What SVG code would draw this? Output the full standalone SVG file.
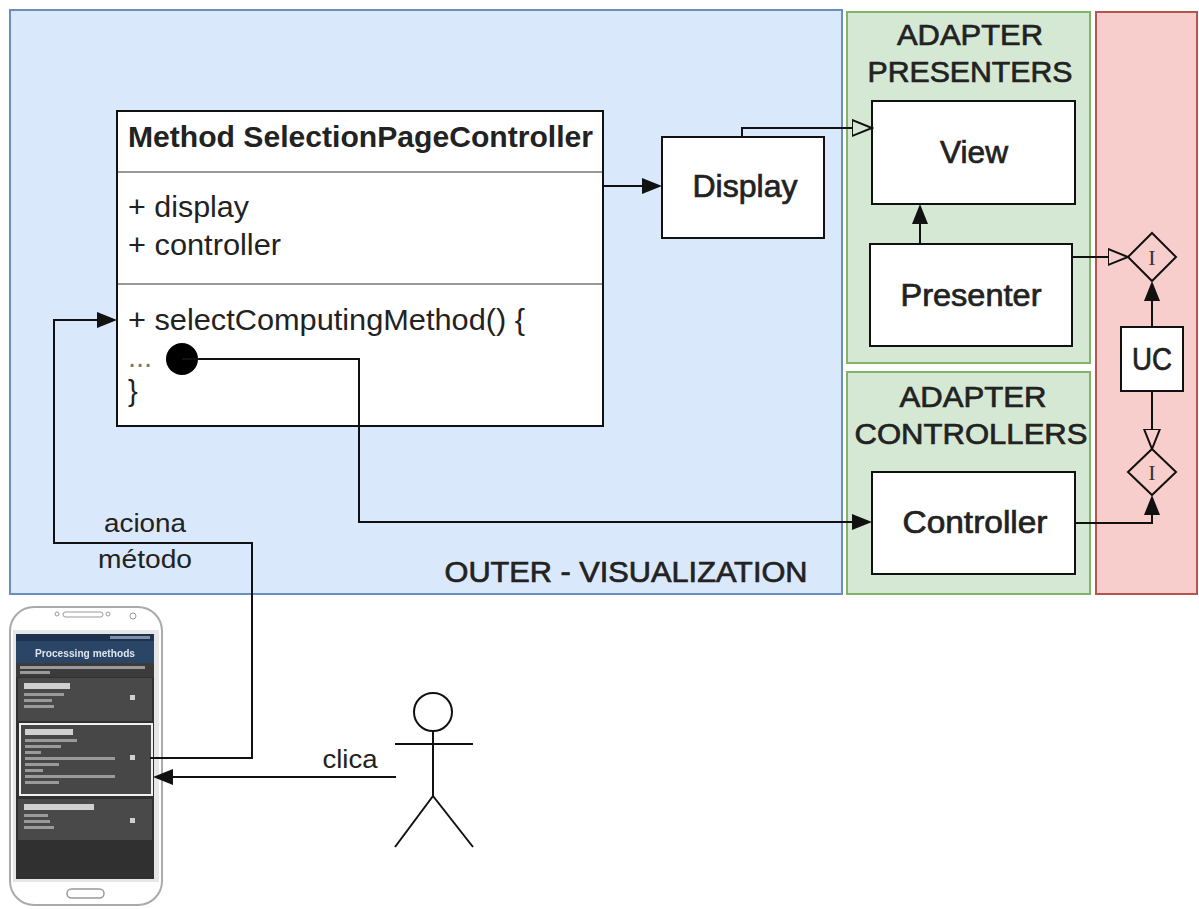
<svg xmlns="http://www.w3.org/2000/svg" width="1199" height="909" viewBox="0 0 1199 909">
  <style>
    .t { font-family: "Liberation Sans", Arial, sans-serif; fill: #222; }
    .heavy { stroke: #222; stroke-width: 0.7px; }
    .lbl { font-size: 31px; text-anchor: middle; }
    .mem { font-size: 29px; }
    .sec { font-size: 30px; text-anchor: middle; }
    .edge { fill: none; stroke: #111; stroke-width: 2; }
    .box { fill: #fff; stroke: #111; stroke-width: 2; }
    .iface { fill: none; stroke: #111; stroke-width: 2; }
    .itxt { font-family: "Liberation Serif", "Times New Roman", serif; font-size: 22px; fill: #333; text-anchor: middle; }
    .bar { fill: #9a9a9a; }
    .barHi { fill: #d0d0d0; }
  </style>
  <defs>
    <marker id="arrFill" viewBox="0 -9 22 18" refX="0" refY="0" markerWidth="22" markerHeight="18" markerUnits="userSpaceOnUse" orient="auto">
      <path d="M0,-8 L20,0 L0,8 Z" fill="#111"/>
    </marker>
    <marker id="arrOpen" viewBox="0 -10 22 20" refX="0" refY="0" markerWidth="22" markerHeight="20" markerUnits="userSpaceOnUse" orient="auto">
      <path d="M0,-8 L20,0 L0,8 Z" fill="none" stroke="#111" stroke-width="2"/>
    </marker>
    <filter id="soft" x="-5%" y="-5%" width="110%" height="110%">
      <feGaussianBlur stdDeviation="0.7"/>
    </filter>
  </defs>

  <!-- Layer regions -->
  <g id="layer-outer">
    <rect x="10" y="10" width="832" height="584" fill="#dae8fc" stroke="#6c8ebf" stroke-width="2"/>
    <text class="t heavy" x="626" y="582" font-size="30" text-anchor="middle" textLength="363" lengthAdjust="spacingAndGlyphs">OUTER - VISUALIZATION</text>
  </g>
  <g id="layer-adapter-presenters">
    <rect x="847" y="12" width="243" height="351" fill="#d5e8d4" stroke="#82b366" stroke-width="2"/>
    <text class="t sec heavy" x="970" y="45" textLength="146" lengthAdjust="spacingAndGlyphs">ADAPTER</text>
    <text class="t sec heavy" x="970" y="82" textLength="205" lengthAdjust="spacingAndGlyphs">PRESENTERS</text>
  </g>
  <g id="layer-adapter-controllers">
    <rect x="847" y="372" width="243" height="222" fill="#d5e8d4" stroke="#82b366" stroke-width="2"/>
    <text class="t sec heavy" x="973" y="407" textLength="147" lengthAdjust="spacingAndGlyphs">ADAPTER</text>
    <text class="t sec heavy" x="971" y="444" textLength="233" lengthAdjust="spacingAndGlyphs">CONTROLLERS</text>
  </g>
  <g id="layer-usecases">
    <rect x="1096" y="12" width="101" height="582" fill="#f8cecc" stroke="#b85450" stroke-width="2"/>
  </g>

  <!-- Class -->
  <g id="method-selection-page-controller">
    <rect class="box" x="117" y="111" width="486" height="315"/>
    <line x1="118" y1="172" x2="602" y2="172" stroke="#999" stroke-width="2"/>
    <line x1="118" y1="284" x2="602" y2="284" stroke="#999" stroke-width="2"/>
    <text class="t" x="128" y="147" font-size="30" font-weight="bold" textLength="465" lengthAdjust="spacingAndGlyphs">Method SelectionPageController</text>
    <text class="t mem" x="128" y="217" textLength="121" lengthAdjust="spacingAndGlyphs">+ display</text>
    <text class="t mem" x="128" y="255" textLength="153" lengthAdjust="spacingAndGlyphs">+ controller</text>
    <text class="t mem" x="128" y="330" textLength="397" lengthAdjust="spacingAndGlyphs">+ selectComputingMethod() {</text>
    <text class="t mem" x="128" y="367" style="fill:#777">...</text>
    <text class="t mem" x="128" y="401">}</text>
  </g>

  <g id="display">
    <rect class="box" x="662" y="137" width="162" height="101"/>
    <text class="t lbl heavy" x="745" y="197" textLength="105" lengthAdjust="spacingAndGlyphs">Display</text>
  </g>
  <g id="view">
    <rect class="box" x="872" y="101" width="203" height="103"/>
    <text class="t lbl heavy" x="974" y="163" textLength="68" lengthAdjust="spacingAndGlyphs">View</text>
  </g>
  <g id="presenter">
    <rect class="box" x="870" y="244" width="202" height="102"/>
    <text class="t lbl heavy" x="971" y="306" textLength="141" lengthAdjust="spacingAndGlyphs">Presenter</text>
  </g>
  <g id="controller">
    <rect class="box" x="872" y="472" width="203" height="102"/>
    <text class="t lbl heavy" x="975" y="533" textLength="145" lengthAdjust="spacingAndGlyphs">Controller</text>
  </g>
  <g id="uc">
    <rect class="box" x="1121" y="327" width="62" height="64"/>
    <text class="t lbl heavy" x="1152" y="370" textLength="40" lengthAdjust="spacingAndGlyphs">UC</text>
  </g>
  <g id="output-port">
    <polygon class="iface" points="1152,233 1176,257 1152,281 1128,257"/>
    <text class="itxt" x="1152" y="265">I</text>
  </g>
  <g id="input-port">
    <polygon class="iface" points="1152,449 1176,472 1152,495 1128,472"/>
    <text class="itxt" x="1152" y="480">I</text>
  </g>

  <!-- Actor -->
  <g id="user" fill="none" stroke="#111" stroke-width="2">
    <circle cx="433" cy="712" r="19" fill="#fff"/>
    <line x1="433" y1="731" x2="433" y2="796"/>
    <line x1="395" y1="744" x2="473" y2="744"/>
    <line x1="433" y1="796" x2="395" y2="847"/>
    <line x1="433" y1="796" x2="473" y2="847"/>
  </g>

  <!-- Smartphone showing the method list -->
  <g id="phone">
    <rect x="10" y="607" width="152" height="298" rx="24" fill="#fff" stroke="#aaa" stroke-width="2"/>
    <rect x="13" y="630" width="146" height="252" fill="#e6e6e6"/>
    <rect x="63" y="612" width="40" height="5" rx="2.5" fill="none" stroke="#999" stroke-width="1"/>
    <circle cx="57" cy="614" r="2" fill="none" stroke="#999"/>
    <circle cx="108" cy="614" r="2" fill="none" stroke="#999"/>
    <circle cx="133" cy="616" r="3" fill="none" stroke="#999"/>
    <rect x="67" y="889" width="37" height="9" rx="4.5" fill="none" stroke="#999" stroke-width="1.5"/>
    <rect x="16" y="634" width="138" height="245" fill="#303030"/>
    <g filter="url(#soft)">
      <rect x="16" y="634" width="138" height="7" fill="#1f3350"/>
      <rect x="110" y="636" width="40" height="3" fill="#8090a8"/>
      <rect x="16" y="641" width="138" height="22" fill="#2a4466"/>
      <rect x="16" y="663" width="138" height="14" fill="#3a3a3a"/>
      <rect x="20" y="666" width="125" height="3" class="bar"/>
      <rect x="20" y="671" width="30" height="3" class="bar"/>
      <rect x="18" y="678" width="134" height="43" fill="#484848"/>
      <rect x="24" y="683" width="46" height="6" class="barHi"/>
      <rect x="24" y="693" width="40" height="3" class="bar"/>
      <rect x="24" y="699" width="28" height="3" class="bar"/>
      <rect x="24" y="705" width="30" height="3" class="bar"/>
      <rect x="130" y="695" width="5" height="5" class="barHi"/>
      <rect x="20" y="724" width="132" height="71" fill="#474747" stroke="#f0f0f0" stroke-width="2"/>
      <rect x="25" y="729" width="48" height="6" class="barHi"/>
      <rect x="25" y="739" width="52" height="3" class="bar"/>
      <rect x="25" y="745" width="36" height="3" class="bar"/>
      <rect x="25" y="751" width="16" height="3" class="bar"/>
      <rect x="25" y="757" width="90" height="3" class="bar"/>
      <rect x="25" y="763" width="34" height="3" class="bar"/>
      <rect x="25" y="769" width="18" height="3" class="bar"/>
      <rect x="25" y="775" width="90" height="3" class="bar"/>
      <rect x="25" y="781" width="34" height="3" class="bar"/>
      <rect x="130" y="755" width="5" height="5" class="barHi"/>
      <rect x="18" y="799" width="134" height="41" fill="#484848"/>
      <rect x="24" y="804" width="70" height="6" class="barHi"/>
      <rect x="24" y="814" width="24" height="3" class="bar"/>
      <rect x="24" y="820" width="26" height="3" class="bar"/>
      <rect x="24" y="826" width="30" height="3" class="bar"/>
      <rect x="130" y="818" width="5" height="5" class="barHi"/>
    </g>
    <text x="85" y="657" font-family="Liberation Sans, Arial, sans-serif" font-size="11" font-weight="bold" fill="#dde4ee" text-anchor="middle" textLength="100" lengthAdjust="spacingAndGlyphs" filter="url(#soft)">Processing methods</text>
  </g>

  <!-- Connectors -->
  <g id="connectors">
    <path class="edge" d="M603,186 H642" marker-end="url(#arrFill)"/>
    <path class="edge" d="M742,137 V128 H852" marker-end="url(#arrOpen)"/>
    <path class="edge" d="M920,244 V224" marker-end="url(#arrFill)"/>
    <path class="edge" d="M1072,257 H1108" marker-end="url(#arrOpen)"/>
    <path class="edge" d="M1152,327 V301" marker-end="url(#arrFill)"/>
    <path class="edge" d="M1152,391 V429" marker-end="url(#arrOpen)"/>
    <path class="edge" d="M1075,523 H1152 V515" marker-end="url(#arrFill)"/>
    <circle cx="182" cy="359" r="16" fill="#000"/>
    <path class="edge" d="M182,359 H359 V522 H852" marker-end="url(#arrFill)"/>
    <path class="edge" d="M150,758 H252 V543 H54 V320 H97" marker-end="url(#arrFill)"/>
    <path class="edge" d="M396,777 H173" marker-end="url(#arrFill)"/>
    <text class="t" x="145" y="532" font-size="26" text-anchor="middle" textLength="82" lengthAdjust="spacingAndGlyphs">aciona</text>
    <text class="t" x="145" y="568" font-size="26" text-anchor="middle" textLength="94" lengthAdjust="spacingAndGlyphs">método</text>
    <text class="t" x="350" y="768" font-size="26" text-anchor="middle" textLength="55" lengthAdjust="spacingAndGlyphs">clica</text>
  </g>
</svg>
